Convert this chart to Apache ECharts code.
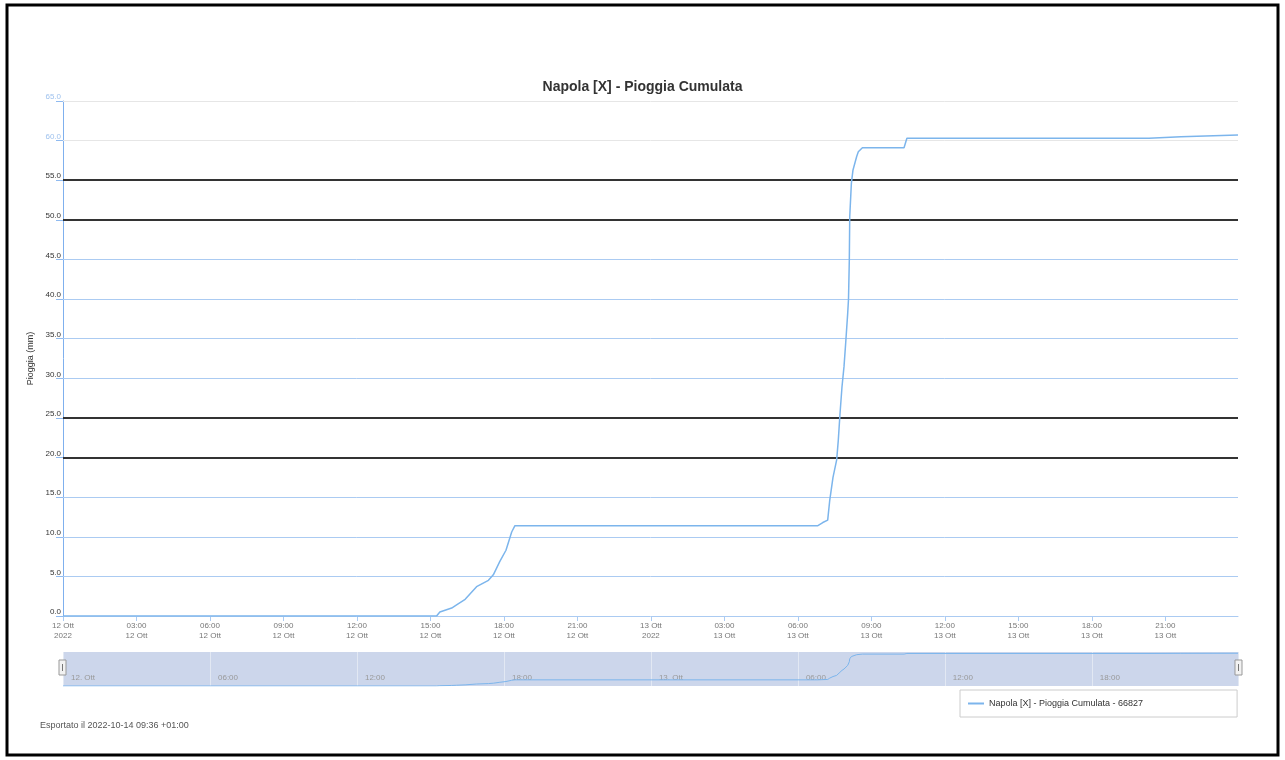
<!DOCTYPE html>
<html>
<head>
<meta charset="utf-8">
<script src="https://cdn.jsdelivr.net/npm/echarts@6/dist/echarts.min.js"></script>
<style>html,body{margin:0;padding:0;background:#fff}#c{width:1285px;height:760px}</style>
</head>
<body>
<div id="c"></div>
<script>
const chartTitle = 'Napola [X] - Pioggia Cumulata';
const seriesName = 'Napola [X] - Pioggia Cumulata - 66827';
const yAxisName = 'Pioggia (mm)';
const footerText = 'Esportato il 2022-10-14 09:36 +01:00';
const xMin = '2022-10-12 00:00';
const xMax = '2022-10-13 23:58';
const times = ['2022-10-12 00:00','2022-10-12 15:15','2022-10-12 15:23','2022-10-12 15:52','2022-10-12 16:04','2022-10-12 16:25','2022-10-12 16:53','2022-10-12 17:22','2022-10-12 17:34','2022-10-12 17:50','2022-10-12 18:05','2022-10-12 18:19','2022-10-12 18:27','2022-10-13 06:49','2022-10-13 07:01','2022-10-13 07:13','2022-10-13 07:18','2022-10-13 07:26','2022-10-13 07:35','2022-10-13 07:39','2022-10-13 07:43','2022-10-13 07:48','2022-10-13 07:53','2022-10-13 07:57','2022-10-13 08:02','2022-10-13 08:04','2022-10-13 08:06','2022-10-13 08:07','2022-10-13 08:11','2022-10-13 08:15','2022-10-13 08:24','2022-10-13 08:28','2022-10-13 08:38','2022-10-13 10:20','2022-10-13 10:27','2022-10-13 20:20','2022-10-13 20:24','2022-10-13 21:38','2022-10-13 21:42','2022-10-13 23:58'];
const values = [0,0,0.5,1.0,1.4,2.1,3.7,4.5,5.2,6.9,8.3,10.6,11.4,11.4,11.8,12.1,14.6,17.5,19.7,22.2,25.4,28.9,31.5,34.4,38.2,40.0,45.0,50.4,54.6,56.3,58.0,58.6,59.1,59.1,60.3,60.3,60.5,60.5,60.7,60.7];
const thresholds = [20, 25, 50, 55];
const blueGridLines = [5, 10, 15, 30, 35, 40, 45];
const upperGridLines = [60, 65];
const monthShort = 'Ott';

const toMs = s => { const [d, t] = s.split(' '); const [Y, M, D] = d.split('-').map(Number); const [h, m] = t.split(':').map(Number); return new Date(Y, M - 1, D, h, m).getTime(); };
const data = times.map((t, i) => [toMs(t), values[i]]);
const pad = n => (n < 10 ? '0' : '') + n;
const H = 3600 * 1000;
const lineColor = '#7cb5ec';
const gridBlue = '#abcbf2';
const gridGray = '#e6e6e6';
const ff = 'Liberation Sans, Arial, sans-serif';

const chart = echarts.init(document.getElementById('c'), null, {renderer: 'canvas'});
chart.setOption({
  animation: false,
  backgroundColor: '#fff',
  textStyle: {fontFamily: ff},
  title: {
    text: chartTitle, left: 'center', top: 75,
    textStyle: {fontSize: 14, fontWeight: 'bold', color: '#333', fontFamily: ff}
  },
  legend: {
    left: 960, top: 690,
    padding: [9, 94, 9, 8],
    borderColor: '#cccccc', borderWidth: 1,
    itemWidth: 16, itemHeight: 2, itemGap: 5,
    icon: 'rect',
    textStyle: {fontSize: 9, color: '#333'},
    data: [seriesName]
  },
  grid: [
    {left: 63, right: 47, top: 101, bottom: 144},
    {left: 63, right: 47, top: 652, height: 34, show: true, backgroundColor: '#ccd6eb', borderWidth: 0}
  ],
  xAxis: [
    {
      type: 'value', gridIndex: 0, min: toMs(xMin), max: toMs(xMax), interval: 3 * H,
      axisLine: {show: true, lineStyle: {color: gridBlue, width: 1}},
      axisTick: {show: true, length: 5, lineStyle: {color: gridBlue}},
      splitLine: {show: false},
      axisLabel: {
        fontSize: 8, color: '#777', lineHeight: 10, margin: 5, hideOverlap: false, showMaxLabel: false,
        formatter: function (val) {
          const d = new Date(val);
          if (d.getHours() === 0 && d.getMinutes() === 0) return d.getDate() + ' ' + monthShort + '\n' + d.getFullYear();
          return pad(d.getHours()) + ':' + pad(d.getMinutes()) + '\n' + d.getDate() + ' ' + monthShort;
        }
      }
    },
    {
      type: 'value', gridIndex: 1, min: toMs(xMin), max: toMs(xMax), interval: 6 * H,
      axisLine: {show: false}, axisTick: {show: false},
      splitLine: {show: true, lineStyle: {color: '#e2e8f3', width: 1}},
      axisLabel: {
        inside: true, fontSize: 8, color: '#999', align: 'left', padding: [0, 0, 0, 8], margin: 4, hideOverlap: false, showMaxLabel: false,
        formatter: function (val) {
          const d = new Date(val);
          if (d.getHours() === 0 && d.getMinutes() === 0) return d.getDate() + '. ' + monthShort;
          return pad(d.getHours()) + ':' + pad(d.getMinutes());
        }
      }
    }
  ],
  yAxis: [
    {
      type: 'value', gridIndex: 0, min: 0, max: 65, interval: 5,
      name: yAxisName, nameLocation: 'middle', nameGap: 20, nameRotate: 90,
      nameTextStyle: {fontSize: 9, color: '#333'},
      axisLine: {show: true, lineStyle: {color: '#7fb0ee', width: 1}},
      axisTick: {show: true, length: 7, lineStyle: {color: '#8fbaf0'}},
      axisLabel: {
        fontSize: 8, margin: 2, verticalAlign: 'bottom',
        color: function (v) { return Number(v) >= 60 ? '#9fc2ee' : '#333'; },
        formatter: function (v) { return Number(v).toFixed(1); }
      },
      splitLine: {show: false}
    },
    {
      type: 'value', gridIndex: 1, min: 0, max: 63,
      show: false, splitLine: {show: false}
    }
  ],
  series: [
    {
      name: seriesName, type: 'line', xAxisIndex: 0, yAxisIndex: 0,
      data: data, showSymbol: false, symbol: 'none',
      lineStyle: {color: lineColor, width: 1.5}, itemStyle: {color: lineColor},
      markLine: {
        silent: true, symbol: 'none', label: {show: false}, z: 1,
        data: thresholds.map(t => ({yAxis: t, lineStyle: {color: '#333', width: 2, type: 'solid'}}))
          .concat(blueGridLines.map(t => ({yAxis: t, lineStyle: {color: gridBlue, width: 1, type: 'solid'}})))
          .concat(upperGridLines.map(t => ({yAxis: t, lineStyle: {color: gridGray, width: 1, type: 'solid'}})))
      },
      z: 3
    },
    {
      name: 'navigator', type: 'line', xAxisIndex: 1, yAxisIndex: 1,
      data: data, showSymbol: false, symbol: 'none',
      lineStyle: {color: lineColor, width: 1}, itemStyle: {color: lineColor}
    }
  ],
  graphic: [
    {type: 'rect', shape: {x: 7, y: 5, width: 1271, height: 750}, style: {fill: null, stroke: '#000', lineWidth: 3}, silent: true},
    {type: 'rect', shape: {x: 59, y: 660, width: 7, height: 15}, style: {fill: '#f2f2f2', stroke: '#999', lineWidth: 1}, z: 10},
    {type: 'line', shape: {x1: 62.5, y1: 664, x2: 62.5, y2: 671}, style: {stroke: '#777', lineWidth: 1}, z: 11},
    {type: 'rect', shape: {x: 1235, y: 660, width: 7, height: 15}, style: {fill: '#f2f2f2', stroke: '#999', lineWidth: 1}, z: 10},
    {type: 'line', shape: {x1: 1238.5, y1: 664, x2: 1238.5, y2: 671}, style: {stroke: '#777', lineWidth: 1}, z: 11},
    {type: 'text', left: 40, top: 721, style: {text: footerText, fontSize: 9, fill: '#555', fontFamily: ff}}
  ]
});
</script>
</body>
</html>
